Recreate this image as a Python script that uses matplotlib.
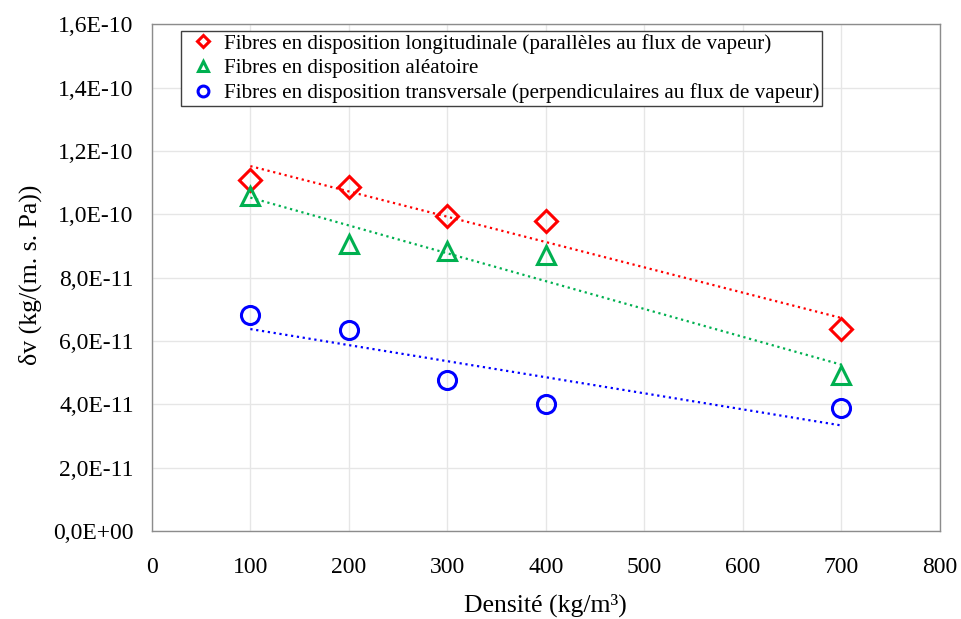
import numpy as np
import matplotlib
matplotlib.use('Agg')
import matplotlib.pyplot as plt

# Data:
densite = [100, 200, 300, 400, 700]
longitudinale = [1.107e-10, 1.085e-10, 9.94e-11, 9.78e-11, 6.37e-11]
aleatoire = [1.057e-10, 9.05e-11, 8.83e-11, 8.71e-11, 4.92e-11]
transversale = [6.81e-11, 6.34e-11, 4.76e-11, 4.01e-11, 3.88e-11]

labels = ['Fibres en disposition longitudinale (parallèles au flux de vapeur)',
          'Fibres en disposition aléatoire',
          'Fibres en disposition transversale (perpendiculaires au flux de vapeur)']
colors = ['#FF0000', '#00B050', '#0000FF']
markers = ['D', '^', 'o']
sizes = [11, 13, 13]

yticks = np.arange(0, 1.61e-10, 2e-11)
ytick_labels = ['0,0E+00', '2,0E-11', '4,0E-11', '6,0E-11', '8,0E-11',
                '1,0E-10', '1,2E-10', '1,4E-10', '1,6E-10']

plt.rcParams['font.family'] = ['Liberation Serif', 'DejaVu Serif']

fig = plt.figure(figsize=(9.61, 6.19), dpi=100)
ax = fig.add_axes([0.158, 0.142, 0.820, 0.819])

x = np.array(densite, dtype=float)
for ys, c, m, s, lab in zip([longitudinale, aleatoire, transversale], colors, markers, sizes, labels):
    ys = np.array(ys)
    # Linear trend line:
    a, b = np.polyfit(x, ys, 1)
    ax.plot([x.min(), x.max()], [a * x.min() + b, a * x.max() + b], linestyle=':',
            color=c, linewidth=1.6, zorder=2)
    ax.plot(x, ys, linestyle='none', marker=m, markersize=s, markerfacecolor='none',
            markeredgecolor=c, markeredgewidth=2.2, label=lab, zorder=3)

ax.set_xlim(0, 800)
ax.set_ylim(0, 1.6e-10)
ax.set_xticks(np.arange(0, 801, 100))
ax.set_yticks(yticks)
ax.set_yticklabels(ytick_labels)
ax.tick_params(axis='both', length=0, labelsize=17, colors='black')
ax.tick_params(axis='x', pad=19)
ax.tick_params(axis='y', pad=13)
ax.grid(color='#E6E6E6', linewidth=1)
ax.set_axisbelow(True)
for sp in ax.spines.values():
    sp.set_color('#8C8C8C')
    sp.set_linewidth(1)

ax.set_xlabel('Densité (kg/m³)', fontsize=18.5)
ax.xaxis.set_label_coords(0.5, -0.124)
ax.set_ylabel('δv (kg/(m. s. Pa))', fontsize=18.5)
ax.yaxis.set_label_coords(-0.140, 0.505)

leg = ax.legend(loc='upper left', bbox_to_anchor=(0.0368, 0.986), borderaxespad=0,
                fontsize=15.2, markerscale=0.6, handlelength=1.86, handletextpad=0.05,
                labelspacing=0.23, fancybox=False, borderpad=0.12, framealpha=1)
leg.get_frame().set_edgecolor('#404040')
leg.get_frame().set_linewidth(1)

fig.savefig('out.png', dpi=100)
